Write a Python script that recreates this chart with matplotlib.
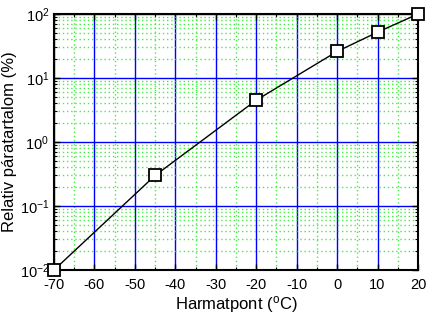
import matplotlib
matplotlib.use("Agg")
import matplotlib.pyplot as plt
from matplotlib.ticker import LogLocator, MultipleLocator, FixedLocator

plt.rcParams['font.family'] = ['Liberation Sans', 'DejaVu Sans']
plt.rcParams['axes.unicode_minus'] = False
plt.rcParams['mathtext.fontset'] = 'custom'
plt.rcParams['mathtext.rm'] = 'Liberation Sans'

temps = [-70, -45, -20, 0, 10, 20]
rh = [0.01, 0.3, 4.5, 26, 52, 100]
xticks = [-70, -60, -50, -40, -30, -20, -10, 0, 10, 20]

fig = plt.figure(figsize=(4.27, 3.22), dpi=100)
ax = fig.add_axes([54/427, 52/322, 364/427, 256/322])
ax.set_yscale('log')
ax.set_xlim(-70, 20)
ax.set_ylim(0.01, 100)
ax.xaxis.set_major_locator(FixedLocator(xticks))
ax.xaxis.set_minor_locator(MultipleLocator(5))
ax.yaxis.set_major_locator(LogLocator(base=10, numticks=10))
ax.yaxis.set_minor_locator(LogLocator(base=10, subs=range(2, 10), numticks=20))

ax.grid(True, which='minor', color='#44ee44', linestyle=(0, (1, 2)), linewidth=1.0)
ax.grid(True, which='major', color='#0000ff', linestyle='-', linewidth=1.0)
ax.set_axisbelow(True)

ax.plot(temps, rh, color='black', linewidth=1.0, marker='s', markersize=9,
        markerfacecolor='white', markeredgecolor='black', markeredgewidth=1.3,
        clip_on=False, zorder=5)

ax.tick_params(which='both', direction='in', top=True, right=True, labelsize=10.5, color='black')
ax.tick_params(axis='x', which='major', pad=6)
ax.tick_params(which='major', length=4, width=1)
ax.tick_params(which='minor', length=2.5, width=0.8)
for s in ax.spines.values():
    s.set_linewidth(1.5)

ax.set_xlabel('Harmatpont ($\\mathregular{^{o}}$C)', fontsize=12, labelpad=1)
ax.set_ylabel('Relativ páratartalom (%)', fontsize=12, labelpad=2)

fig.savefig('out.png', dpi=100)
